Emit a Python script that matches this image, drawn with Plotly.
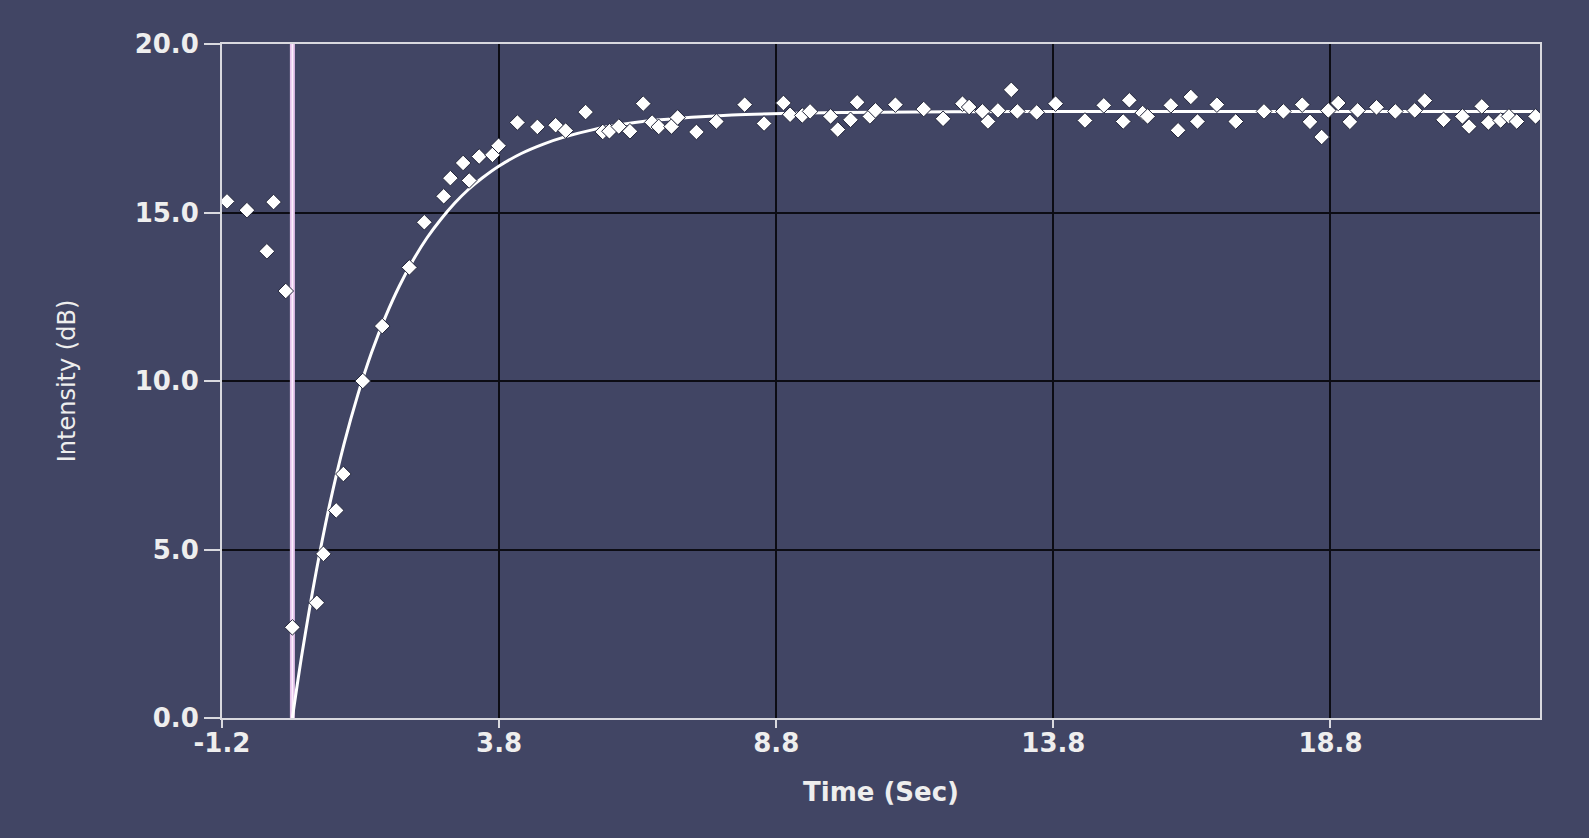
import plotly.graph_objects as go

# ---- data ----
obs_time = [-1.11, -0.75, -0.39, -0.27, -0.05, 0.07, 0.51, 0.63, 0.86, 0.99, 1.34, 1.69,
            2.18, 2.45, 2.80, 2.92, 3.15, 3.26, 3.44, 3.68, 3.79, 4.13, 4.49, 4.82, 5.00,
            5.36, 5.67, 5.79, 5.96, 6.16, 6.40, 6.56, 6.68, 6.91, 7.02, 7.36, 7.72, 8.23,
            8.58, 8.93, 9.05, 9.27, 9.41, 9.78, 9.91, 10.14, 10.26, 10.49, 10.59, 10.95,
            11.46, 11.81, 12.16, 12.28, 12.52, 12.62, 12.80, 13.04, 13.15, 13.50, 13.84,
            14.37, 14.71, 15.06, 15.17, 15.41, 15.50, 15.92, 16.05, 16.28, 16.40, 16.75,
            17.09, 17.60, 17.95, 18.29, 18.43, 18.64, 18.76, 18.94, 19.15, 19.29, 19.63,
            19.97, 20.32, 20.50, 20.84, 21.18, 21.30, 21.53, 21.65, 21.87, 22.02, 22.16,
            22.50]
obs_intensity = [15.33, 15.07, 13.85, 15.31, 12.67, 2.69, 3.42, 4.87, 6.16, 7.24, 10.00, 11.63,
                 13.37, 14.71, 15.48, 16.02, 16.47, 15.95, 16.66, 16.71, 16.98, 17.67, 17.54,
                 17.59, 17.43, 17.98, 17.39, 17.41, 17.55, 17.41, 18.23, 17.67, 17.54, 17.55,
                 17.82, 17.39, 17.70, 18.20, 17.64, 18.25, 17.90, 17.88, 18.00, 17.85, 17.46,
                 17.75, 18.27, 17.85, 18.03, 18.20, 18.07, 17.78, 18.23, 18.13, 18.00, 17.70,
                 18.03, 18.64, 18.00, 17.97, 18.23, 17.73, 18.18, 17.70, 18.33, 17.95, 17.85,
                 18.18, 17.44, 18.43, 17.70, 18.20, 17.70, 18.00, 18.00, 18.20, 17.69, 17.24,
                 18.03, 18.25, 17.69, 18.03, 18.12, 18.00, 18.03, 18.32, 17.75, 17.85, 17.55,
                 18.15, 17.67, 17.73, 17.85, 17.70, 17.85]

fit_time = [0.07, 0.25, 0.5, 0.75, 1.0, 1.25, 1.5, 1.75, 2.0, 2.25, 2.5, 2.75, 3.0, 3.25,
            3.5, 3.8, 4.2, 4.6, 5.0, 5.5, 6.0, 6.5, 7.0, 8.0, 9.0, 10.0, 12.0, 15.0, 22.5]
fit_intensity = [0.0, 1.97, 4.35, 6.39, 8.12, 9.59, 10.85, 11.91, 12.82, 13.59, 14.25, 14.80,
                 15.28, 15.69, 16.03, 16.38, 16.75, 17.03, 17.25, 17.46, 17.61, 17.72, 17.79,
                 17.89, 17.94, 17.97, 17.99, 18.0, 18.0]

stimulus_time = 0.07
x_range = [-1.2, 22.58]
y_range = [0, 20]
x_ticks = [-1.2, 3.8, 8.8, 13.8, 18.8]
y_ticks = [0, 5, 10, 15, 20]

BG = "#414564"
AXIS = "#d9d9df"
TXT = "#eeeeee"

fig = go.Figure()

# stimulus marker line
fig.add_trace(go.Scatter(x=[stimulus_time, stimulus_time], y=y_range, mode="lines",
                         line=dict(color="#e6c2ec", width=5), hoverinfo="skip", showlegend=False))
fig.add_trace(go.Scatter(x=[stimulus_time, stimulus_time], y=y_range, mode="lines",
                         line=dict(color="#fbf0fc", width=1.5), hoverinfo="skip", showlegend=False))

# fitted curve
fig.add_trace(go.Scatter(x=fit_time, y=fit_intensity, mode="lines",
                         line=dict(color="#ffffff", width=3, shape="spline", smoothing=1.0),
                         showlegend=False))

# observations
fig.add_trace(go.Scatter(x=obs_time, y=obs_intensity, mode="markers",
                         marker=dict(symbol="diamond", size=12, color="#ffffff",
                                     line=dict(color="#23263a", width=1)),
                         showlegend=False))

fig.update_layout(
    width=1589, height=838,
    paper_bgcolor=BG, plot_bgcolor=BG,
    margin=dict(l=222, r=49, t=44, b=120, autoexpand=False),
    font=dict(family="DejaVu Sans", color=TXT),
)
fig.update_xaxes(
    range=x_range, tickvals=x_ticks, ticktext=[f"{v:.1f}" for v in x_ticks],
    showgrid=True, gridcolor="#0c0c14", gridwidth=2,
    showline=True, linecolor=AXIS, linewidth=2, mirror=True,
    ticks="outside", ticklen=8, tickwidth=2, tickcolor=AXIS,
    ticklabelstandoff=-7,
    tickfont=dict(family="DejaVu Sans", size=26, color=TXT, weight="bold"),
    title=dict(text="Time (Sec)", standoff=26,
               font=dict(family="DejaVu Sans", size=26, color=TXT, weight="bold")),
    zeroline=False, automargin=False,
)
fig.update_yaxes(
    range=y_range, tickvals=y_ticks, ticktext=[f"{v:.1f}" for v in y_ticks],
    showgrid=True, gridcolor="#0c0c14", gridwidth=2,
    showline=True, linecolor=AXIS, linewidth=2, mirror=True,
    ticks="outside", ticklen=16, tickwidth=2, tickcolor=AXIS,
    tickfont=dict(family="DejaVu Sans", size=26, color=TXT, weight="bold"),
    title=dict(text="Intensity (dB)", standoff=52,
               font=dict(family="DejaVu Sans", size=24, color=TXT)),
    zeroline=False, automargin=False,
)

fig.write_html("out.html", config={"displayModeBar": False},
               post_script="document.body.style.margin='0';document.body.style.background='%s';" % BG)
